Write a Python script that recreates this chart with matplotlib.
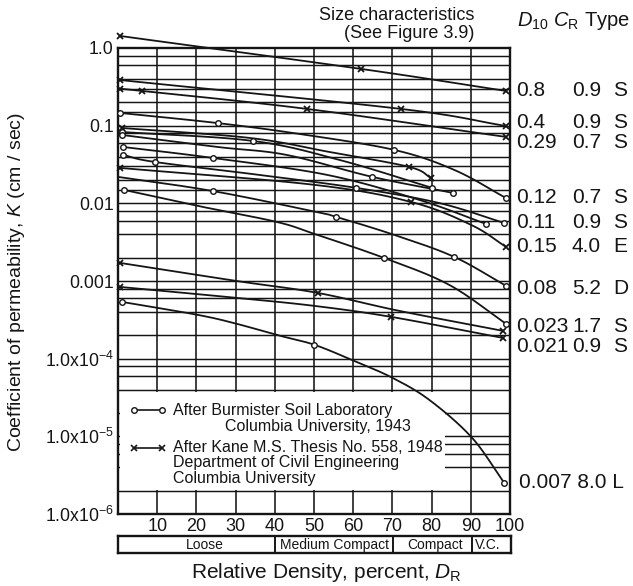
import numpy as np
import matplotlib
matplotlib.use("Agg")
import matplotlib.pyplot as plt
from matplotlib.lines import Line2D
from matplotlib.patches import Rectangle

plt.rcParams['font.family'] = ['Liberation Sans', 'DejaVu Sans']
plt.rcParams['mathtext.fontset'] = 'custom'
plt.rcParams['mathtext.rm'] = 'Liberation Sans'
plt.rcParams['mathtext.it'] = 'Liberation Sans:italic'
plt.rcParams['mathtext.bf'] = 'Liberation Sans:bold'

# ---- permeability curves: relative density D_R (%) vs K (cm/s) ----
dr_a = [0.5, 62.1, 99.0]
k_a = [1.43, 0.537, 0.280]
dr_b = [0.5, 72.3, 99.0]
k_b = [0.387, 0.164, 0.0991]
dr_c = [0.5, 6.1, 48.3, 99.0]
k_c = [0.297, 0.280, 0.164, 0.0716]
dr_d = [0.5, 25.4, 46.3, 70.5, 85.8, 99.0]
k_d = [0.146, 0.108, 0.0782, 0.0487, 0.0269, 0.0117]
dr_e = [1.0, 33.6, 53.9, 74.3, 79.9]
k_e = [0.0934, 0.0695, 0.0459, 0.0294, 0.0212]
dr_f = [1.0, 34.4, 56.5, 80.2]
k_f = [0.0830, 0.0636, 0.0362, 0.0158]
dr_g = [1.0, 25.4, 43.0, 64.9, 85.5]
k_g = [0.0759, 0.0532, 0.0420, 0.0219, 0.0136]
dr_h = [1.3, 24.2, 53.4, 76.8, 93.9]
k_h = [0.0532, 0.0384, 0.0232, 0.0111, 0.00543]
dr_i = [1.3, 9.4, 36.1, 60.8, 81.9, 98.5]
k_i = [0.0420, 0.0341, 0.0232, 0.0158, 0.0101, 0.00560]
dr_j = [0.5, 50.1, 74.8, 90.1, 99.0]
k_j = [0.0286, 0.0173, 0.0104, 0.00527, 0.00275]
dr_k = [0.0, 24.2, 50.6, 55.7, 70.5, 85.8, 99.0]
k_k = [0.0219, 0.0144, 0.00775, 0.00668, 0.00392, 0.00204, 0.000865]
dr_l = [1.5, 20.4, 40.5, 50.1, 67.9, 84.5, 99.0]
k_l = [0.0149, 0.00926, 0.00576, 0.00404, 0.00198, 0.000891, 0.000281]
dr_m = [0.5, 30.3, 50.9, 71.8, 98.2]
k_m = [0.00171, 0.00100, 0.000703, 0.000412, 0.000228]
dr_n = [0.5, 30.3, 50.1, 69.7, 98.2]
k_n = [0.000839, 0.000606, 0.000478, 0.000345, 0.000185]
dr_o = [1.0, 20.4, 30.3, 40.5, 50.1, 60.8, 70.0, 79.4, 90.3, 98.5]
k_o = [0.000538, 0.000366, 0.000281, 0.000202, 0.000151, 9.10e-5,
       5.67e-5, 2.95e-5, 9.6e-6, 2.52e-6]

# size characteristics listed at the right (D10, CR, type)
d10_vals = ['0.8', '0.4', '0.29', '0.12', '0.11', '0.15', '0.08', '0.023', '0.021']
cr_vals = ['0.9', '0.9', '0.7', '0.7', '0.9', '4.0', '5.2', '1.7', '0.9']
type_vals = ['S', 'S', 'S', 'S', 'S', 'E', 'D', 'S', 'S']
last_row = '0.007 8.0 L'

x_ticks = [10, 20, 30, 40, 50, 60, 70, 80, 90, 100]
y_ticks = [1e-6, 1e-5, 1e-4, 1e-3, 1e-2, 1e-1, 1.0]
y_ticklabels = [r'1.0x10$^{-6}$', r'1.0x10$^{-5}$', r'1.0x10$^{-4}$',
                '0.001', '0.01', '0.1', '1.0']
density_classes = ['Loose', 'Medium Compact', 'Compact', 'V.C.']
class_bounds = [0, 40, 70, 90, 100]

# ---- figure layout (pixel helpers) ----
W, H = 633, 586
fig = plt.figure(figsize=(W / 100, H / 100), dpi=100)
fig.patch.set_facecolor('white')


def fx(px):
    return px / W


def fy(py):
    return 1 - py / H


ink = '#151515'
ax = fig.add_axes([fx(118), fy(514), fx(510) - fx(118), fy(48) - fy(514)])
ax.set_yscale('log')
ax.set_xlim(0, 100)
ax.set_ylim(1e-6, 1.0)
ax.yaxis.set_minor_locator(matplotlib.ticker.NullLocator())
ax.set_yticks(y_ticks)
ax.set_yticklabels(y_ticklabels)
ax.set_xticks(x_ticks)
ax.set_xticklabels([str(v) for v in x_ticks])
ax.tick_params(axis='both', length=0, colors=ink)
ax.tick_params(axis='y', pad=3, labelsize=12.7)
ax.tick_params(axis='x', pad=3, labelsize=13)
for s in ax.spines.values():
    s.set_linewidth(1.7)
    s.set_color(ink)

# graph-paper rulings
for d in range(10, 100, 10):
    ax.axvline(d, color=ink, lw=1.15, zorder=1)
for dec in range(-6, 0):
    subs = [1, 1.5, 2, 3, 4, 6, 8] if dec >= -2 else [1, 2, 4, 6, 8]
    for m in subs:
        v = m * 10.0 ** dec
        if 1e-6 < v < 1.0:
            ax.axhline(v, color=ink, lw=1.05, zorder=1)

# blank panel behind the key
ax.add_patch(Rectangle((0.004, 0.0515), 0.83, 0.2105, transform=ax.transAxes,
                       facecolor='white', edgecolor='none', zorder=1.5))


def smooth(x, y, n=24):
    """Catmull-Rom path through the points in (D_R, log K) space."""
    x = np.asarray(x, float)
    y = np.log10(np.asarray(y, float))
    P = np.column_stack([x, y])
    if len(P) < 3:
        return x, 10 ** y
    P = np.vstack([2 * P[0] - P[1], P, 2 * P[-1] - P[-2]])
    out = []
    t = np.linspace(0, 1, n, endpoint=False)[:, None]
    for i in range(1, len(P) - 2):
        p0, p1, p2, p3 = P[i - 1], P[i], P[i + 1], P[i + 2]
        seg = 0.5 * ((2 * p1) + (-p0 + p2) * t
                     + (2 * p0 - 5 * p1 + 4 * p2 - p3) * t ** 2
                     + (-p0 + 3 * p1 - 3 * p2 + p3) * t ** 3)
        out.append(seg)
    out.append(P[-2][None, :])
    out = np.vstack(out)
    return out[:, 0], 10 ** out[:, 1]


curves = [
    (dr_a, k_a, 'x', [0, 1, 2]),
    (dr_b, k_b, 'x', [0, 1, 2]),
    (dr_c, k_c, 'x', [0, 1, 2, 3]),
    (dr_d, k_d, 'o', [0, 1, 3, 5]),
    (dr_e, k_e, 'x', [0, 3, 4]),
    (dr_f, k_f, 'o', [0, 1, 3]),
    (dr_g, k_g, 'o', [0, 3, 4]),
    (dr_h, k_h, 'o', [0, 1, 4]),
    (dr_i, k_i, 'o', [0, 1, 3, 5]),
    (dr_j, k_j, 'x', [0, 2, 4]),
    (dr_k, k_k, 'o', [1, 3, 5, 6]),
    (dr_l, k_l, 'o', [0, 4, 6]),
    (dr_m, k_m, 'x', [0, 2, 4]),
    (dr_n, k_n, 'x', [0, 3, 4]),
    (dr_o, k_o, 'o', [0, 4, 9]),
]

for dr, k, mk, marks in curves:
    sx, sy = smooth(dr, k)
    ax.plot(sx, sy, color=ink, lw=1.3, zorder=3, clip_on=False,
            solid_capstyle='round')
    mx = [dr[i] for i in marks]
    my = [k[i] for i in marks]
    if mk == 'o':
        ax.plot(mx, my, ls='none', marker='o', ms=4, mfc='white', mec=ink,
                mew=1.0, zorder=4, clip_on=False)
    else:
        ax.plot(mx, my, ls='none', marker='x', ms=4.2, mec=ink, mew=1.3,
                zorder=4, clip_on=False)

# ---- key ----
fig.add_artist(Line2D([fx(134), fx(162)], [fy(410), fy(410)],
                      transform=fig.transFigure, color=ink, lw=1.2,
                      marker='o', ms=4, mfc='white', mec=ink, mew=1.0))
fig.add_artist(Line2D([fx(134), fx(162)], [fy(448), fy(448)],
                      transform=fig.transFigure, color=ink, lw=1.2,
                      marker='x', ms=4, mec=ink, mew=1.2))
key_fs = 11.5
fig.text(fx(173), fy(410), 'After Burmister Soil Laboratory', fontsize=key_fs,
         va='center', color=ink)
fig.text(fx(225), fy(426), 'Columbia University, 1943', fontsize=key_fs,
         va='center', color=ink)
fig.text(fx(173), fy(448), 'After Kane M.S. Thesis No. 558, 1948',
         fontsize=key_fs, va='center', color=ink)
fig.text(fx(173), fy(463), 'Department of Civil Engineering', fontsize=key_fs,
         va='center', color=ink)
fig.text(fx(173), fy(479), 'Columbia University', fontsize=key_fs,
         va='center', color=ink)

# ---- size characteristics table ----
fig.text(fx(474), fy(16), 'Size characteristics', ha='right', va='center',
         fontsize=13, color=ink)
fig.text(fx(474), fy(33), '(See Figure 3.9)', ha='right', va='center',
         fontsize=13, color=ink)
fig.text(fx(517), fy(21), r'$D_{10}\ C_{\mathrm{R}}$ Type', va='center',
         fontsize=14.5, color=ink)
row_y = [90, 122, 143, 198, 223, 246, 288, 327, 347]
for yy, a, b, c in zip(row_y, d10_vals, cr_vals, type_vals):
    fig.text(fx(516), fy(yy), a, va='center', fontsize=15, color=ink)
    fig.text(fx(572), fy(yy), b, va='center', fontsize=15, color=ink)
    fig.text(fx(613), fy(yy), c, va='center', fontsize=15, color=ink)
fig.text(fx(519), fy(483), last_row, va='center', fontsize=15, color=ink)

# ---- density class bar ----
bx = fig.add_axes([fx(118), fy(553), fx(511) - fx(118), fy(536) - fy(553)])
bx.set_xlim(0, 100)
bx.set_ylim(0, 1)
bx.set_xticks([])
bx.set_yticks([])
for s in bx.spines.values():
    s.set_linewidth(1.7)
    s.set_color(ink)
for b in class_bounds[1:-1]:
    bx.axvline(b, color=ink, lw=1.4)
class_centers = [22, 55, 80.7, 94]
for name, cxp in zip(density_classes, class_centers):
    bx.text(cxp, 0.47, name, ha='center', va='center', fontsize=10, color=ink)

# ---- axis titles ----
fig.text(fx(326), fy(573), r'Relative Density, percent, $D_{\mathrm{R}}$',
         ha='center', va='center', fontsize=15, color=ink)
fig.text(fx(17), fy(282), r'Coefficient of permeability, $K$ (cm / sec)',
         rotation=90, ha='center', va='center', fontsize=14, color=ink)

fig.savefig('out.png', dpi=100, facecolor='white')
